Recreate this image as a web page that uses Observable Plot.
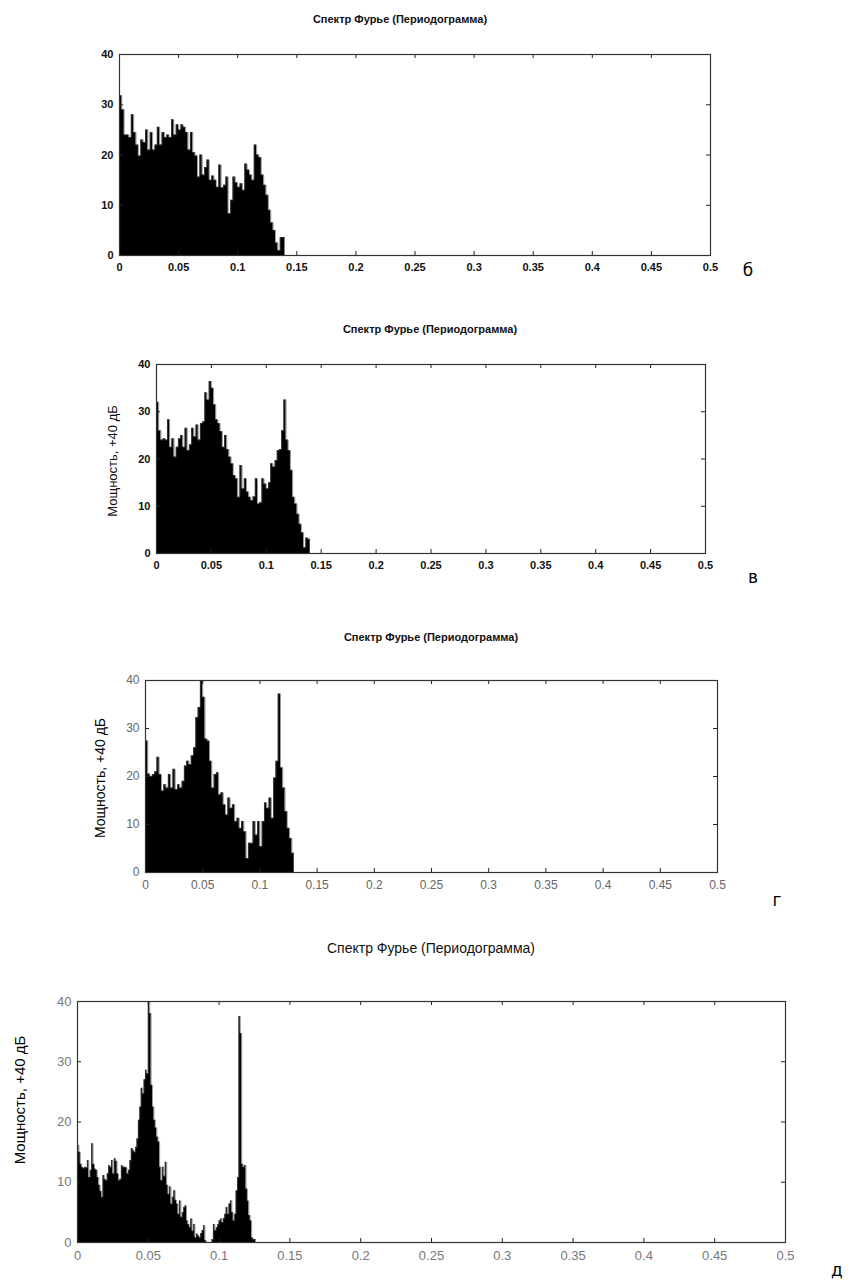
<!DOCTYPE html>
<html>
<head>
<meta charset="utf-8">
<script src="https://cdn.jsdelivr.net/npm/d3@7"></script>
<script src="https://cdn.jsdelivr.net/npm/@observablehq/plot@0.6"></script>
<style>
  html, body { margin: 0; padding: 0; background: #fff; }
  body { width: 848px; height: 1281px; position: relative; overflow: hidden; font-family: "Liberation Sans", Arial, Helvetica, sans-serif; }
  .abs { position: absolute; white-space: nowrap; }
  .ctr { transform: translate(-50%, -50%); }
  .rot { transform: translate(-50%, -50%) rotate(-90deg); }
</style>
</head>
<body>
<script>
// ---------- data ----------
const xTicks = [0, 0.05, 0.1, 0.15, 0.2, 0.25, 0.3, 0.35, 0.4, 0.45, 0.5];
const xTickLabels = ["0", "0.05", "0.1", "0.15", "0.2", "0.25", "0.3", "0.35", "0.4", "0.45", "0.5"];
const yTicks = [0, 10, 20, 30, 40];
const yTickLabels = ["0", "10", "20", "30", "40"];
const titleText = "Спектр Фурье (Периодограмма)";
const yLabelText = "Мощность, +40 дБ";
const panelLetters = ["б", "в", "г", "д"];
const binWidths = [0.002, 0.002, 0.002, 0.001];

// panel б (bins of 0.002 from 0)
const powerB = [31.8, 29, 24, 24, 23.5, 28, 24.5, 22, 19.8, 23, 22.5, 25, 21, 24.5, 21, 22, 25.5, 22, 24.5, 23.5,
  24, 23.5, 27, 24, 26, 25, 26, 25.5, 24.5, 21, 24.5, 20.5, 19.8, 15.6, 20, 16, 17.5, 19, 15, 15.8,
  15, 13.6, 18, 13.5, 14, 15.6, 8.3, 11, 15.6, 14.5, 13.6, 14.3, 13, 18.2, 17, 16, 15, 22, 20, 19.5,
  16, 14, 12, 9, 6.5, 5, 2.5, 1, 3.6, 3.6];
// panel в
const powerV = [32, 26, 24, 24.3, 24, 28.3, 22.5, 24.3, 20.4, 22.5, 24.3, 25, 22.5, 26.5, 21.8, 23, 26.5, 24.7, 27.2, 24,
  27.5, 27.9, 34, 32.5, 36.4, 35, 31.5, 28.3, 27.5, 25.8, 22.5, 25, 22, 20.4, 19, 16.5, 15.8, 11.9, 18.6, 13.7,
  15.8, 13, 11.9, 11.2, 12, 15.8, 10.5, 10.8, 15.8, 14.7, 13.7, 15, 19, 18.3, 19.7, 21.8, 22, 26, 32.5, 24,
  21.8, 17.6, 11.9, 10.5, 8.3, 6.2, 4.4, 1.2, 3.3, 3];
// panel г
const powerG = [27.4, 20.5, 20, 20.4, 21, 24, 20.4, 17, 18.3, 17.6, 20.4, 17.6, 21.5, 17.3, 18.3, 17.6, 19, 22.2, 23.2, 22.5,
  24.3, 26, 32.3, 34.4, 40, 36.5, 27.8, 27.4, 23.2, 17.6, 20.4, 20.8, 16.2, 16.6, 14.1, 12, 15.5, 13.4, 14.1, 10.6,
  11.3, 9.2, 10.6, 8.5, 2.9, 6.1, 6.1, 10.6, 7.8, 10.6, 5.4, 10.6, 14.5, 13.4, 15.5, 11.3, 19.7, 23.2, 37.2, 21.8,
  17.6, 12.7, 9.2, 7.1, 4];
// panel д (bins of 0.001 from 0)
const powerD = [16.1, 15, 13, 12.5, 12.3, 12.5, 12.4, 13.6, 10.8, 12, 16.4, 13, 12.2, 12, 10.8, 9.5, 8.5, 7.5, 11.1, 10.5,
  10.3, 11.4, 12.8, 12.5, 13.6, 11.4, 13.9, 13.5, 11.4, 10.3, 10.5, 12.8, 12.5, 12.5, 12.4, 11.4, 12, 13.6, 15.6, 15.3,
  15, 15.8, 17.2, 20.3, 22.5, 25.6, 24.7, 27, 28.6, 28, 40, 38, 26.1, 22.5, 20.3, 19, 17.5, 16.7, 12.5, 10.3,
  12.5, 11, 13.3, 9.5, 8, 9.2, 6.4, 7.5, 8.6, 7, 6.4, 4.7, 6.9, 4.2, 5, 5.8, 6.1, 3.6, 3, 2.5,
  3.9, 1.9, 3, 0.8, 1.4, 1.1, 0.8, 1.5, 2, 2.8, 0.3, 0, 0, 0, 0, 0.5, 3, 2, 2.5, 3,
  3.6, 3.9, 3.3, 4, 4.7, 5.8, 4.7, 6.4, 6.9, 5, 3.6, 4.7, 8.6, 10.8, 37.5, 34.7, 13, 12.5, 12.8, 8.9,
  6.9, 4.5, 3.6, 0.8, 0.5, 0.5];

const series = [powerB, powerV, powerG, powerD];

// ---------- layout ----------
const W = 848;
const layout = [
  { left: 119, right: 710, top: 54, bottom: 255, titleX: 400, titleY: 19, titleSize: 11, titleWeight: "bold", tickSize: 11, tickColor: "#111", tickWeight: "bold", ylab: null, letter: [748, 270] },
  { left: 156, right: 705, top: 364, bottom: 553, titleX: 430, titleY: 329, titleSize: 11, titleWeight: "bold", tickSize: 11, tickColor: "#111", tickWeight: "bold", ylab: [112, 461, 13, "#111"], letter: [753, 577] },
  { left: 145, right: 717, top: 680, bottom: 872, titleX: 431, titleY: 637, titleSize: 11, titleWeight: "bold", tickSize: 12, tickColor: "#666", tickWeight: "normal", ylab: [100, 778, 14, "#000"], letter: [777, 900] },
  { left: 77, right: 785, top: 1001, bottom: 1242, titleX: 431, titleY: 948, titleSize: 14, titleWeight: "normal", tickSize: 13, tickColor: "#777", tickWeight: "normal", ylab: [19, 1100, 15, "#000"], letter: [837, 1270] }
];

function addDiv(text, x, y, cls, style) {
  const d = document.createElement("div");
  d.className = "abs " + cls;
  d.textContent = text;
  d.style.left = x + "px";
  d.style.top = y + "px";
  Object.assign(d.style, style);
  document.body.appendChild(d);
}

layout.forEach((cfg, p) => {
  const bw = binWidths[p];
  const vals = series[p];
  // step-after points: start of each bin, plus the end of the last bin
  const pts = vals.map((v, i) => ({ x: i * bw, y: v }));
  pts.push({ x: vals.length * bw, y: vals[vals.length - 1] });
  const mt = 10, mb = 30;
  const plotH = cfg.bottom - cfg.top;
  const plotW = cfg.right - cfg.left;
  const tk = 4;
  const chart = Plot.plot({
    width: W,
    height: mt + plotH + mb,
    marginLeft: cfg.left,
    marginRight: W - cfg.right,
    marginTop: mt,
    marginBottom: mb,
    x: { domain: [0, 0.5] },
    y: { domain: [0, 40] },
    style: { fontFamily: '"Liberation Sans", Arial, sans-serif', fontSize: cfg.tickSize + "px", color: cfg.tickColor, fontWeight: cfg.tickWeight, background: "transparent", overflow: "visible" },
    marks: [
      Plot.areaY(pts, { x: "x", y: "y", curve: "step-after", fill: "#000" }),
      Plot.lineY(pts, { x: "x", y: "y", curve: "step-after", stroke: "#555", strokeWidth: 0.6 }),
      Plot.ruleX(xTicks, { x: d => d, stroke: "#222", insetTop: plotH - tk }),
      Plot.ruleX(xTicks, { x: d => d, stroke: "#222", insetBottom: plotH - tk }),
      Plot.ruleY(yTicks, { y: d => d, stroke: "#222", insetRight: plotW - tk }),
      Plot.ruleY(yTicks, { y: d => d, stroke: "#222", insetLeft: plotW - tk }),
      Plot.frame({ stroke: "#333", strokeWidth: 1.2 }),
      Plot.axisX({ ticks: xTicks, tickSize: 0, tickPadding: 8, label: null, tickFormat: d => xTickLabels[xTicks.indexOf(d)] }),
      Plot.axisY({ ticks: yTicks, tickSize: 0, tickPadding: 6, label: null, tickFormat: d => yTickLabels[yTicks.indexOf(d)] })
    ]
  });
  chart.style.position = "absolute";
  chart.style.left = "0px";
  chart.style.top = (cfg.top - mt) + "px";
  document.body.appendChild(chart);

  addDiv(titleText, cfg.titleX, cfg.titleY, "ctr", { fontSize: cfg.titleSize + "px", color: "#111", fontWeight: cfg.titleWeight });
  if (cfg.ylab) {
    addDiv(yLabelText, cfg.ylab[0], cfg.ylab[1], "rot", { fontSize: cfg.ylab[2] + "px", color: cfg.ylab[3] });
  }
  addDiv(panelLetters[p], cfg.letter[0], cfg.letter[1], "ctr", { fontSize: "17px", color: "#000", fontFamily: '"DejaVu Sans", sans-serif' });
});
</script>
</body>
</html>
